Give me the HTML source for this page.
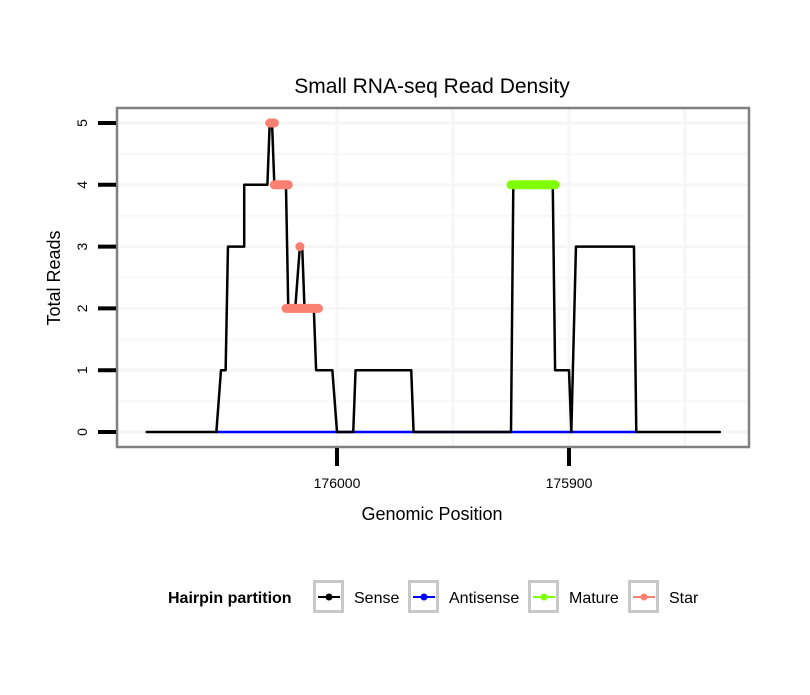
<!DOCTYPE html>
<html><head><meta charset="utf-8"><style>
body{margin:0;background:#fff;font-family:"Liberation Sans",sans-serif}
svg text{font-family:"Liberation Sans",sans-serif}
</style></head><body>
<svg id="c" width="810" height="690" xmlns="http://www.w3.org/2000/svg">
<rect width="810" height="690" fill="#fff"/>
<g id="grid"></g><g id="marks"></g><g id="axes"></g>
<text x="432" y="93" font-size="21" text-anchor="middle">Small RNA-seq Read Density</text>
<text x="432" y="520" font-size="18" text-anchor="middle">Genomic Position</text>
<text x="0" y="0" font-size="18" text-anchor="middle" transform="translate(60,278) rotate(-90)">Total Reads</text>
<g>
<text x="168" y="603" font-size="16" font-weight="bold">Hairpin partition</text>
<g id="leg"></g>
</g>
</svg>
<script>
const yTicks=[0,1,2,3,4,5];
const xTicks=[176000,175900];
const xMinor=[175950,175850];
const senseX=[176082,176052,176050,176048,176047,176040,176040,176030,176029,176028,176027,176022,176021,176018,176016,176015,176014,176010,176009,176002,176000,175993,175992,175968,175967,175925,175924,175907,175906,175900,175899,175897,175872,175871,175835];
const senseY=[0,0,1,1,3,3,4,4,5,5,4,4,2,2,3,3,2,2,1,1,0,0,1,1,0,0,4,4,1,1,0,3,3,0,0];
const antiX=[176052,175871];
const antiY=[0,0];
const matureX=[175925,175906];
const matureY=[4,4];
const starSegs=[[176029,176027,5],[176027,176021,4],[176016,176016,3],[176022,176016,2],[176016,176008,2]];
const NS='http://www.w3.org/2000/svg';
const X=v=>337+(176000-v)*2.32;
const Y=v=>432-v*61.8;
function el(t,a,p){const e=document.createElementNS(NS,t);for(const k in a)e.setAttribute(k,a[k]);document.getElementById(p).appendChild(e);return e;}
el('rect',{x:117,y:108,width:632,height:339,fill:'#fff'},'grid');
for(let v=0.5;v<5;v+=1){const g=el('line',{x1:118,x2:748,y1:Y(v),y2:Y(v),stroke:'#f8f8f8','stroke-width':2},'grid');

}
yTicks.forEach(v=>{const g=el('line',{x1:118,x2:748,y1:Y(v),y2:Y(v),stroke:'#f6f6f6','stroke-width':3},'grid');

});
xTicks.concat(xMinor).forEach(v=>{const g=el('line',{x1:X(v),x2:X(v),y1:109,y2:446,stroke:'#f6f6f6','stroke-width':3},'grid');

});
function poly(xs,ys,col,w,name){const p=el('polyline',{points:xs.map((x,i)=>X(x)+','+Y(ys[i])).join(' '),fill:'none',stroke:col,'stroke-width':w,'stroke-linecap':'round','stroke-linejoin':'round'},'marks');

}
poly(antiX,antiY,'#0000ff',2.5,'antisense-line');
poly(senseX,senseY,'#000',2.5,'sense-line');
poly(matureX,matureY,'#7fff00',9,'mature-line');
starSegs.forEach(s=>{const l=el('line',{x1:X(s[0]),x2:X(s[1]),y1:Y(s[2]),y2:Y(s[2]),stroke:'#fa8072','stroke-width':9,'stroke-linecap':'round'},'marks');

});
el('rect',{x:117,y:108,width:632,height:339,fill:'none',stroke:'#808080','stroke-width':2.5},'axes');
yTicks.forEach(v=>{const t=el('line',{x1:98,x2:116,y1:Y(v),y2:Y(v),stroke:'#000','stroke-width':4},'axes');


const tx=el('text',{x:0,y:0,'font-size':14,'text-anchor':'middle',transform:`translate(87,${Y(v)}) rotate(-90)`},'axes');tx.textContent=v;

});
xTicks.forEach(v=>{const t=el('line',{x1:X(v),x2:X(v),y1:448,y2:466,stroke:'#000','stroke-width':4},'axes');


const tx=el('text',{x:X(v),y:488,'font-size':14,'text-anchor':'middle'},'axes');tx.textContent=v;

});
const legNames=['Sense','Antisense','Mature','Star'];
const legCols=['#000','#0000ff','#7fff00','#fa8072'];
const legBox=[313,408,528,628];
legNames.forEach((n,i)=>{const b=legBox[i];
const r=el('rect',{x:b+1.5,y:581.5,width:28,height:30,fill:'#fff',stroke:'#c8c8c8','stroke-width':3},'leg');


el('line',{x1:b+5,x2:b+27,y1:597,y2:597,stroke:legCols[i],'stroke-width':2},'leg');
el('circle',{cx:b+16,cy:597,r:3.5,fill:legCols[i]},'leg');
const t=el('text',{x:b+41,y:603,'font-size':16},'leg');t.textContent=n;

});
</script>
</body></html>
